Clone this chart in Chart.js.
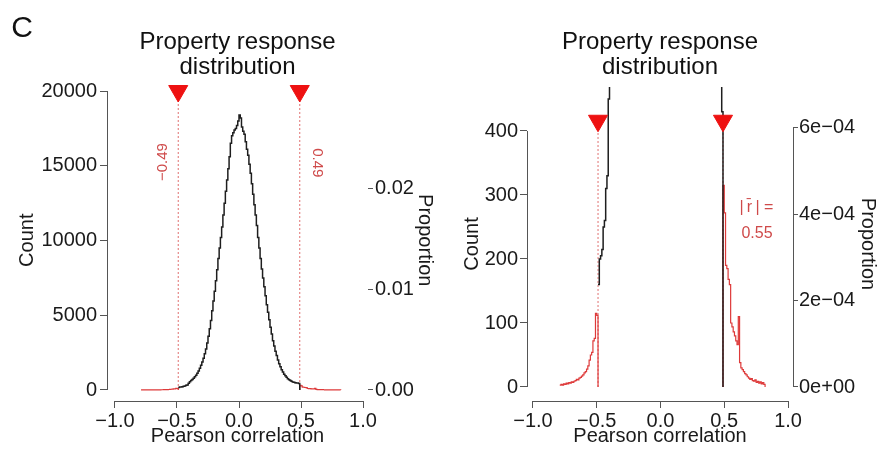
<!DOCTYPE html>
<html>
<head>
<meta charset="utf-8">
<script src="https://cdn.jsdelivr.net/npm/chart.js@4.4.1/dist/chart.umd.min.js"></script>
<style>
  body { margin: 0; background: #fff; }
  #wrap { position: relative; width: 880px; height: 451px; }
  canvas { position: absolute; top: 0; }
  #full { left: 0; }
  #zoom { left: 440px; }
</style>
</head>
<body>
<div id="wrap">
  <canvas id="full" width="440" height="451"></canvas>
  <canvas id="zoom" width="440" height="451"></canvas>
</div>
<script>
// histogram of correlations, central part (|r| < 0.49): bin edges and counts
const coreEdges = [-0.49, -0.48, -0.47, -0.46, -0.45, -0.44, -0.43, -0.42, -0.41, -0.40,
  -0.39, -0.38, -0.37, -0.36, -0.35, -0.34, -0.33, -0.32, -0.31, -0.30,
  -0.29, -0.28, -0.27, -0.26, -0.25, -0.24, -0.23, -0.22, -0.21, -0.20,
  -0.19, -0.18, -0.17, -0.16, -0.15, -0.14, -0.13, -0.12, -0.11, -0.10,
  -0.09, -0.08, -0.07, -0.06, -0.05, -0.04, -0.03, -0.02, -0.01, 0.00,
  0.01, 0.02, 0.03, 0.04, 0.05, 0.06, 0.07, 0.08, 0.09, 0.10,
  0.11, 0.12, 0.13, 0.14, 0.15, 0.16, 0.17, 0.18, 0.19, 0.20,
  0.21, 0.22, 0.23, 0.24, 0.25, 0.26, 0.27, 0.28, 0.29, 0.30,
  0.31, 0.32, 0.33, 0.34, 0.35, 0.36, 0.37, 0.38, 0.39, 0.40,
  0.41, 0.42, 0.43, 0.44, 0.45, 0.46, 0.47, 0.48, 0.49];
const coreCounts = [160, 200, 205, 215, 250, 260, 310, 330, 450, 560,
  640, 700, 780, 880, 990, 1120, 1270, 1450, 1650, 1880,
  2130, 2420, 2750, 3150, 3600, 4100, 4650, 5300, 5950, 6600,
  7300, 8050, 8800, 9500, 10200, 10900, 11700, 12500, 13300, 14050,
  14800, 15600, 16500, 17000, 17200, 17400, 17500, 17700, 18000, 18400,
  18200, 17600, 17300, 17100, 16600, 16100, 15700, 15100, 14500, 13800,
  13100, 12400, 11700, 11000, 10200, 9500, 8800, 8100, 7500, 6900,
  6300, 5700, 5200, 4700, 4200, 3750, 3300, 2950, 2600, 2300,
  2000, 1750, 1550, 1350, 1200, 1060, 950, 850, 760, 690,
  630, 580, 540, 510, 490, 470, 470, 430];

// tails (|r| >= 0.49)
const lowTailEdges = [-0.79, -0.78, -0.77, -0.76, -0.75, -0.74, -0.73, -0.72, -0.71, -0.70,
  -0.69, -0.68, -0.67, -0.66, -0.65, -0.64, -0.63, -0.62, -0.61, -0.60,
  -0.59, -0.58, -0.57, -0.56, -0.55, -0.54, -0.53, -0.52, -0.51, -0.50, -0.49];
const lowTailCounts = [3, 4, 3, 5, 4, 6, 5, 7, 6, 8,
  7, 9, 10, 12, 11, 14, 15, 17, 19, 22,
  24, 28, 33, 42, 50, 54, 72, 76, 115, 112];
const highTailEdges = [0.49, 0.50, 0.51, 0.52, 0.53, 0.54, 0.55, 0.56, 0.57, 0.58,
  0.59, 0.60, 0.61, 0.62, 0.63, 0.64, 0.65, 0.66, 0.67, 0.68,
  0.69, 0.70, 0.71, 0.72, 0.73, 0.74, 0.75, 0.76, 0.77, 0.78,
  0.79, 0.80, 0.81, 0.82];
const highTailCounts = [315, 272, 190, 185, 168, 160, 100, 94, 86, 80,
  72, 66, 110, 38, 30, 27, 24, 21, 19, 16,
  14, 12, 13, 10, 9, 11, 7, 9, 6, 8,
  5, 7, 4];

const thresholds = [-0.49, 0.49];
const meanAbsR = '0.55';
const nPairs = 675000;

const xTicks = [-1, -0.5, 0, 0.5, 1];
const countTicksFull = [0, 5000, 10000, 15000, 20000];
const propTicksFull = [0, 0.01, 0.02];
const propLabelsFull = ['0.00', '0.01', '0.02'];
const countTicksZoom = [0, 100, 200, 300, 400];
const propTicksZoom = [0, 2e-4, 4e-4, 6e-4];
const propLabelsZoom = ['0e+00', '2e\u221204', '4e\u221204', '6e\u221204'];

const FONT = '"Liberation Sans", Arial, Helvetica, sans-serif';
const textColor = '#1a1a1a';
const axisColor = '#555';
const coreColor = '#1e1e1e';
const tailColor = '#de3a3a';
const dashColor = '#e07070';
const markerColor = '#ee1111';
const noteColor = '#cf4a4a';

Chart.defaults.font.family = FONT;

const minus = s => s.replace('-', '\u2212');

// step outline for a histogram: value i holds from edge i to edge i+1
function steps(edges, counts, fromZero) {
  const pts = fromZero ? [{ x: edges[0], y: 0 }] : [];
  counts.forEach((c, i) => pts.push({ x: edges[i], y: c }));
  pts.push({ x: edges[edges.length - 1], y: 0 });
  return pts;
}

const panelDecor = {
  id: 'panelDecor',
  afterDraw(chart, args, o) {
    const { ctx, chartArea: a, scales: { x, y, y2 } } = chart;
    const crisp = v => Math.round(v - 0.5) + 0.5;
    ctx.save();
    ctx.strokeStyle = axisColor;
    ctx.lineWidth = 1;
    ctx.beginPath();
    ctx.moveTo(x.getPixelForValue(xTicks[0]), crisp(a.bottom));
    ctx.lineTo(x.getPixelForValue(xTicks[xTicks.length - 1]), crisp(a.bottom));
    ctx.moveTo(crisp(a.left), y.getPixelForValue(o.yTicks[0]));
    ctx.lineTo(crisp(a.left), y.getPixelForValue(o.yTicks[o.yTicks.length - 1]));
    if (o.y2Line) {
      ctx.moveTo(crisp(a.right), y2.getPixelForValue(o.y2Ticks[0]));
      ctx.lineTo(crisp(a.right), y2.getPixelForValue(o.y2Ticks[o.y2Ticks.length - 1]));
    }
    ctx.stroke();
    o.notes.forEach(n => {
      ctx.save();
      const px = n.px !== undefined ? n.px : x.getPixelForValue(n.x) + (n.dx || 0);
      const py = n.py !== undefined ? n.py : y.getPixelForValue(n.y);
      ctx.translate(px, py);
      ctx.rotate((n.rot || 0) * Math.PI / 180);
      ctx.font = n.font;
      ctx.fillStyle = n.color;
      ctx.textAlign = 'center';
      ctx.textBaseline = 'middle';
      ctx.fillText(n.text, 0, 0);
      ctx.restore();
    });
    ctx.restore();
  }
};

function makePanel(id, p) {
  const tickFont = { size: 20, lineHeight: 1 };
  const labelFont = { size: 20 };
  new Chart(document.getElementById(id), {
    type: 'line',
    data: {
      datasets: [
        { data: steps(coreEdges, coreCounts, false), borderColor: coreColor, borderWidth: 1.5,
          stepped: 'before', pointRadius: 0, order: 1 },
        { data: steps(lowTailEdges, lowTailCounts, false), borderColor: tailColor, borderWidth: 1.2,
          stepped: 'before', pointRadius: 0, order: 2 },
        { data: steps(highTailEdges, highTailCounts, true), borderColor: tailColor, borderWidth: 1.2,
          stepped: 'before', pointRadius: 0, order: 2 },
        ...thresholds.map(t => ({
          data: [{ x: t, y: 0 }, { x: t, y: p.markerY }], borderColor: dashColor, borderWidth: 1,
          borderDash: [2, 2], pointRadius: 0, order: 3
        })),
        { data: thresholds.map(t => ({ x: t, y: p.markerY })), showLine: false,
          pointStyle: 'triangle', rotation: 180, pointRadius: 11,
          backgroundColor: markerColor, borderColor: markerColor, borderWidth: 1, order: 0 }
      ]
    },
    options: {
      responsive: false,
      animation: false,
      layout: { padding: 0, autoPadding: false },
      plugins: {
        legend: { display: false },
        tooltip: { enabled: false },
        title: {
          display: true, fullSize: false,
          text: ['Property response', 'distribution'],
          color: '#111',
          font: { size: 24, weight: 'normal', lineHeight: 25 / 24 },
          padding: { top: 29.5, bottom: p.titleBottom }
        },
        panelDecor: { yTicks: p.yTicks, y2Ticks: p.y2Ticks, y2Line: p.y2Line, notes: p.notes }
      },
      scales: {
        x: {
          type: 'linear', min: p.xMin, max: p.xMax,
          afterBuildTicks: s => { s.ticks = xTicks.map(v => ({ value: v })); },
          afterFit: s => { s.height = 50; },
          ticks: { callback: v => minus(v.toFixed(1)), font: tickFont, color: textColor,
                   padding: 3, maxRotation: 0, autoSkip: false },
          grid: { drawOnChartArea: false, tickLength: 7, color: axisColor },
          border: { display: false },
          title: { display: true, text: 'Pearson correlation', font: labelFont, color: textColor,
                   padding: { top: 0, bottom: 3 } }
        },
        y: {
          type: 'linear', position: 'left', min: p.yMin, max: p.yMax,
          afterBuildTicks: s => { s.ticks = p.yTicks.map(v => ({ value: v })); },
          afterFit: s => { s.width = p.yWidth; },
          ticks: { callback: v => String(v), font: tickFont, color: textColor, padding: p.yPad },
          grid: { drawOnChartArea: false, tickLength: 7, color: axisColor },
          border: { display: false },
          title: { display: true, text: 'Count', font: labelFont, color: textColor,
                   padding: { top: p.countPad, bottom: 0 } }
        },
        y2: {
          type: 'linear', position: 'right', min: p.yMin / nPairs, max: p.yMax / nPairs,
          afterBuildTicks: s => { s.ticks = p.y2Ticks.map(v => ({ value: v })); },
          afterFit: s => { s.width = p.y2Width; },
          ticks: { callback: (v, i) => p.y2Labels[i], font: tickFont, color: textColor, padding: p.y2Pad },
          grid: { drawOnChartArea: false, tickLength: 5, color: axisColor },
          border: { display: false },
          title: { display: true, text: 'Proportion', font: labelFont, color: textColor,
                   padding: { top: p.propPad, bottom: 0 } }
        }
      }
    },
    plugins: [panelDecor]
  });
}

makePanel('full', {
  xMin: -1.0645, xMax: 1.0403, yMin: -736, yMax: 20770,
  yTicks: countTicksFull, y2Ticks: propTicksFull, y2Labels: propLabelsFull, y2Line: false,
  yWidth: 107, y2Width: 72, yPad: 3, y2Pad: 2, countPad: 15, propPad: 3, titleBottom: 0,
  markerY: 20000,
  notes: [
    { text: 'C', px: 22, py: 29, font: '30px ' + FONT, color: '#111' },
    { text: minus(thresholds[0].toFixed(2)), x: thresholds[0], dx: -15, y: 15250, rot: -90,
      font: '15px ' + FONT, color: noteColor },
    { text: thresholds[1].toFixed(2), x: thresholds[1], dx: 17, y: 15200, rot: 90,
      font: '15px ' + FONT, color: noteColor }
  ]
});

makePanel('zoom', {
  xMin: -1.047, xMax: 1.039, yMin: -21.9, yMax: 468.75,
  yTicks: countTicksZoom, y2Ticks: propTicksZoom, y2Labels: propLabelsZoom, y2Line: true,
  yWidth: 87, y2Width: 87, yPad: 2, y2Pad: 1, countPad: 20, propPad: 0, titleBottom: 7.5,
  markerY: 416,
  notes: [
    { text: '|\u2009r\u0304\u2009| =', x: 0.752, y: 280, font: '16px ' + FONT, color: noteColor },
    { text: meanAbsR, x: 0.757, y: 240, font: '16px ' + FONT, color: noteColor }
  ]
});
</script>
</body>
</html>
